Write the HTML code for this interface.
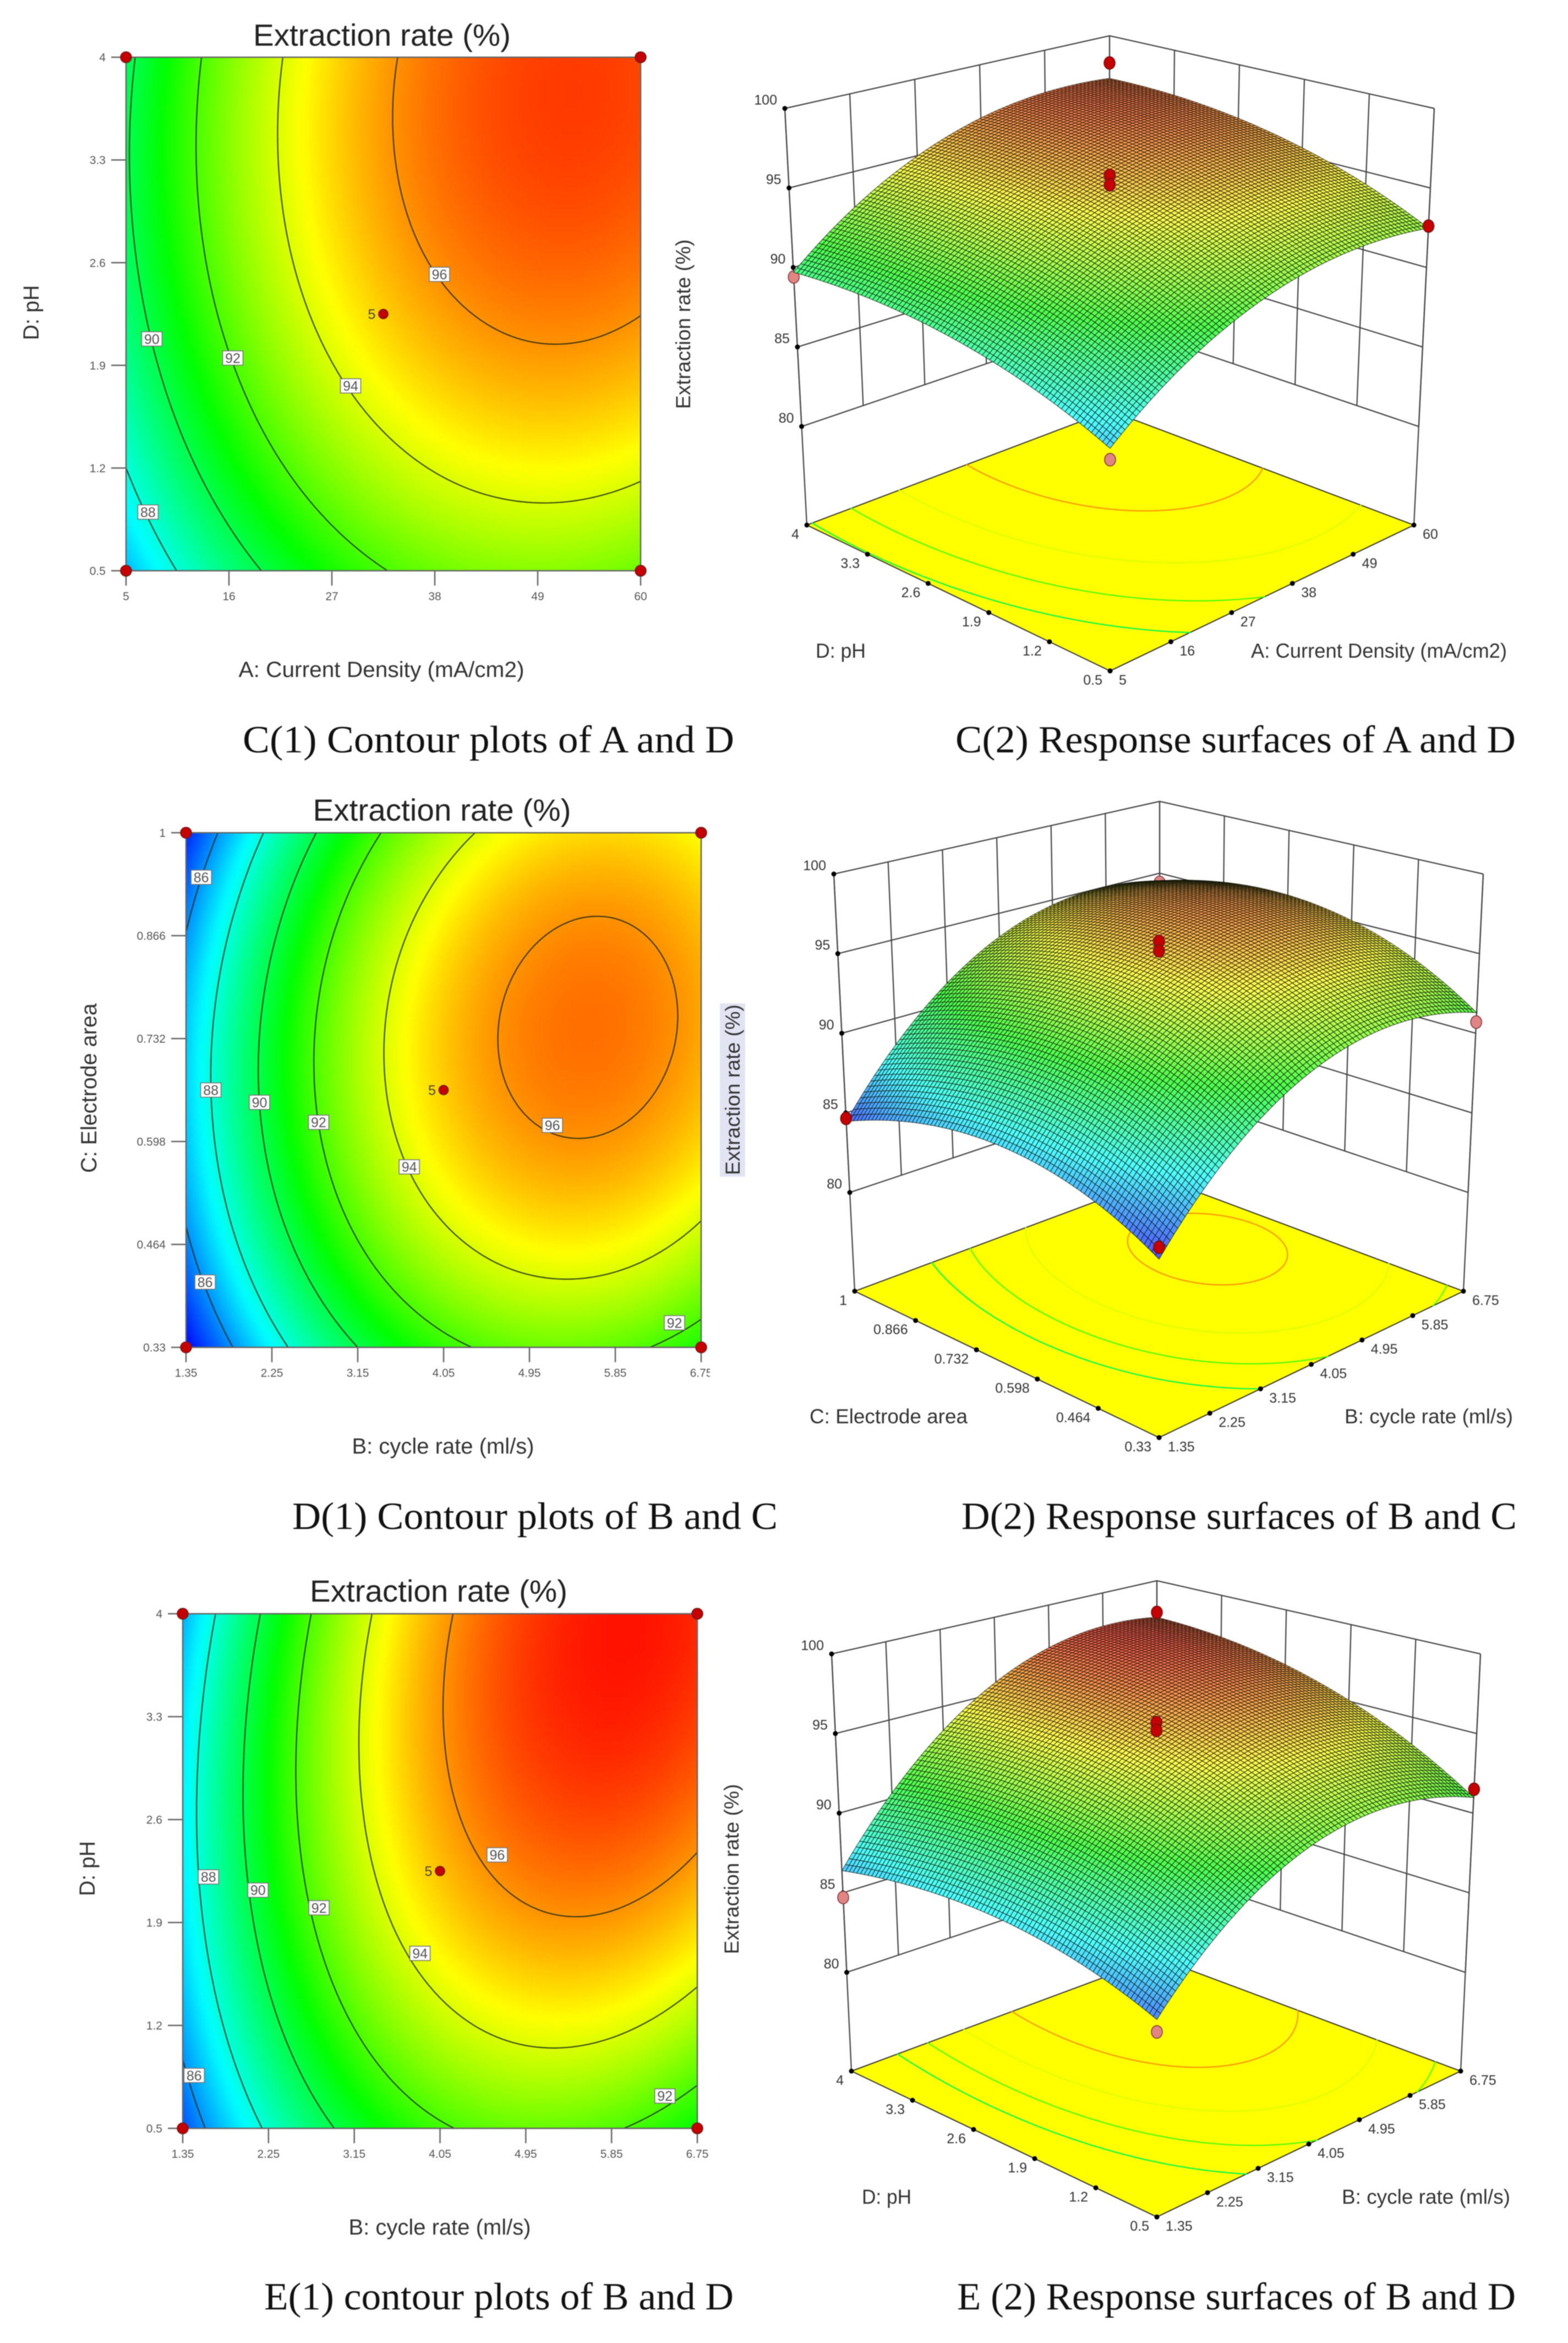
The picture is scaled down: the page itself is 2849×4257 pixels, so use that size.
<!DOCTYPE html>
<html lang="en">
<head>
<meta charset="utf-8">
<title>Contour plots and response surfaces of extraction rate</title>
<style>
html,body{margin:0;padding:0;background:#fff}
svg{display:block;filter:blur(0.8px)}
text{font-family:"Liberation Sans",sans-serif;fill:#333}
.title{fill:#222;font-size:56px}
.axis{font-size:40px}
.axis3d{font-size:37px}
.cap{font-family:"Liberation Serif",serif;fill:#111;font-size:70px}
</style>
</head>
<body>
<svg id="figure" xmlns="http://www.w3.org/2000/svg" width="2849" height="4257" viewBox="0 0 2849 4257">
<rect x="0" y="0" width="2849" height="4257" fill="#fff"/>
<defs>
<filter id="soft" x="-5%" y="-5%" width="110%" height="110%" color-interpolation-filters="sRGB"><feGaussianBlur stdDeviation="5"/></filter>
</defs>
<rect x="1308" y="1823" width="46" height="315" fill="#e2e4f4"/>
<g id="charts"></g>
<rect x="1290" y="2476" width="16" height="36" fill="#fff"/>

<g>
<text class="title" x="694" y="83" text-anchor="middle" textLength="468" lengthAdjust="spacingAndGlyphs">Extraction rate (%)</text>
<text class="axis" x="693" y="1230" text-anchor="middle" textLength="519" lengthAdjust="spacingAndGlyphs">A: Current Density (mA/cm2)</text>
<text class="axis" transform="translate(70,568) rotate(-90)" text-anchor="middle" textLength="100" lengthAdjust="spacingAndGlyphs">D: pH</text>
<text class="cap" x="441" y="1367" textLength="893" lengthAdjust="spacingAndGlyphs">C(1) Contour plots of A and D</text>
</g>
<g>
<text class="axis3d" transform="translate(1254,589) rotate(-90)" text-anchor="middle" textLength="308" lengthAdjust="spacingAndGlyphs">Extraction rate (%)</text>
<text class="axis3d" x="1482" y="1195" textLength="91" lengthAdjust="spacingAndGlyphs">D: pH</text>
<text class="axis3d" x="2273" y="1195" textLength="465" lengthAdjust="spacingAndGlyphs">A: Current Density (mA/cm2)</text>
<text class="cap" x="1736" y="1367" textLength="1018" lengthAdjust="spacingAndGlyphs">C(2) Response surfaces of A and D</text>
</g>
<g>
<text class="title" x="803" y="1491" text-anchor="middle" textLength="469" lengthAdjust="spacingAndGlyphs">Extraction rate (%)</text>
<text class="axis" x="805" y="2641" text-anchor="middle" textLength="331" lengthAdjust="spacingAndGlyphs">B: cycle rate (ml/s)</text>
<text class="axis" transform="translate(175,1977) rotate(-90)" text-anchor="middle" textLength="308" lengthAdjust="spacingAndGlyphs">C: Electrode area</text>
<text class="cap" x="531" y="2778" textLength="882" lengthAdjust="spacingAndGlyphs">D(1) Contour plots of B and C</text>
</g>
<g>
<text class="axis3d" transform="translate(1344,1980) rotate(-90)" text-anchor="middle" textLength="310" lengthAdjust="spacingAndGlyphs">Extraction rate (%)</text>
<text class="axis3d" x="1471" y="2586" textLength="287" lengthAdjust="spacingAndGlyphs">C: Electrode area</text>
<text class="axis3d" x="2443" y="2586" textLength="306" lengthAdjust="spacingAndGlyphs">B: cycle rate (ml/s)</text>
<text class="cap" x="1747" y="2778" textLength="1009" lengthAdjust="spacingAndGlyphs">D(2) Response surfaces of B and C</text>
</g>
<g>
<text class="title" x="797" y="2910" text-anchor="middle" textLength="468" lengthAdjust="spacingAndGlyphs">Extraction rate (%)</text>
<text class="axis" x="799" y="4060" text-anchor="middle" textLength="331" lengthAdjust="spacingAndGlyphs">B: cycle rate (ml/s)</text>
<text class="axis" transform="translate(172,3395) rotate(-90)" text-anchor="middle" textLength="100" lengthAdjust="spacingAndGlyphs">D: pH</text>
<text class="cap" x="480" y="4196" textLength="853" lengthAdjust="spacingAndGlyphs">E(1) contour plots of B and D</text>
</g>
<g>
<text class="axis3d" transform="translate(1342,3396) rotate(-90)" text-anchor="middle" textLength="309" lengthAdjust="spacingAndGlyphs">Extraction rate (%)</text>
<text class="axis3d" x="1566" y="4004" textLength="90" lengthAdjust="spacingAndGlyphs">D: pH</text>
<text class="axis3d" x="2438" y="4004" textLength="306" lengthAdjust="spacingAndGlyphs">B: cycle rate (ml/s)</text>
<text class="cap" x="1739" y="4196" textLength="1015" lengthAdjust="spacingAndGlyphs">E (2) Response surfaces of B and D</text>
</g>
</svg>

<script>
// ---------- chart data ----------
const contourLevels = [86, 88, 90, 92, 94, 96];
const floorContourLevels = [90, 92, 94, 96];
const zTicks = ['80', '85', '90', '95', '100'];

// Panel C: A current density vs D pH. Rows run from lowest pH to highest, columns from lowest A to highest.
const cXTicks = ['5', '16', '27', '38', '49', '60'];
const cYTicks = ['0.5', '1.2', '1.9', '2.6', '3.3', '4'];
const cResponse = [
  [86.55, 89.30, 91.26, 92.45, 92.85, 92.47],
  [88.00, 90.80, 92.82, 94.06, 94.52, 94.20],
  [89.03, 91.89, 93.97, 95.26, 95.78, 95.51],
  [89.66, 92.58, 94.71, 96.06, 96.63, 96.42],
  [89.89, 92.86, 95.04, 96.45, 97.08, 96.93],
  [89.70, 92.73, 94.97, 96.44, 97.12, 97.02]
];
const cLabelLevels = [88, 90, 92, 94, 96];
const cLabelX = [7.35, 7.76, 16.41, 29.0, 38.5];
const cLabelY = [0.90, 2.08, 1.95, 1.76, 2.52];
const cDesignX = [60, 32.5, 32.5, 60, 5, 5];
const cDesignY = [4, 2.25, 2.25, 0.5, 4, 0.5];
const cDesignZ = [98.1, 96.3, 95.7, 92.6, 89.4, 85.9];

// Panel D: B cycle rate vs C electrode area.
const dXTicks = ['1.35', '2.25', '3.15', '4.05', '4.95', '5.85', '6.75'];
const dYTicks = ['0.33', '0.464', '0.598', '0.732', '0.866', '1'];
const dResponse = [
  [84.02, 87.45, 90.00, 91.65, 92.42, 92.30, 91.29],
  [85.78, 89.30, 91.94, 93.68, 94.54, 94.51, 93.59],
  [86.70, 90.31, 93.04, 94.88, 95.83, 95.89, 95.06],
  [86.79, 90.49, 93.31, 95.24, 96.28, 96.43, 95.69],
  [86.04, 89.83, 92.75, 94.76, 95.89, 96.13, 95.48],
  [84.46, 88.34, 91.34, 93.45, 94.67, 95.00, 94.44]
];
const dLabelLevels = [86, 88, 90, 92, 94, 96, 86, 92];
const dLabelX = [1.51, 1.61, 2.12, 2.74, 3.69, 5.19, 1.55, 6.47];
const dLabelY = [0.942, 0.665, 0.649, 0.623, 0.565, 0.619, 0.415, 0.362];
const dDesignX = [6.75, 4.05, 4.05, 6.75, 1.35, 1.35];
const dDesignY = [1, 0.665, 0.665, 0.33, 1, 0.33];
const dDesignZ = [94.36, 96.3, 95.7, 90.7, 84.65, 84.7];

// Panel E: B cycle rate vs D pH.
const eXTicks = ['1.35', '2.25', '3.15', '4.05', '4.95', '5.85', '6.75'];
const eYTicks = ['0.5', '1.2', '1.9', '2.6', '3.3', '4'];
const eResponse = [
  [85.11, 88.20, 90.45, 91.85, 92.40, 92.11, 90.98],
  [86.36, 89.62, 92.04, 93.61, 94.34, 94.23, 93.27],
  [87.11, 90.54, 93.14, 94.89, 95.79, 95.85, 95.06],
  [87.36, 90.97, 93.74, 95.66, 96.74, 96.97, 96.36],
  [87.12, 90.90, 93.85, 95.94, 97.19, 97.60, 97.16],
  [86.39, 90.34, 93.46, 95.73, 97.15, 97.73, 97.46]
];
const eLabelLevels = [86, 88, 90, 92, 94, 96, 92];
const eLabelX = [1.47, 1.62, 2.14, 2.78, 3.84, 4.65, 6.41];
const eLabelY = [0.86, 2.21, 2.12, 2.0, 1.69, 2.36, 0.72];
const eDesignX = [6.75, 4.05, 4.05, 6.75, 1.35, 1.35];
const eDesignY = [4, 2.25, 2.25, 0.5, 4, 0.5];
const eDesignZ = [97.8, 96.2, 95.7, 91.5, 84.7, 84.4];

const colourStopValues = [84, 87.5, 91, 94.5, 98];
const colourStopRGB = [[0, 0, 255], [0, 255, 255], [0, 255, 0], [255, 255, 0], [255, 0, 0]];

// ---------- helpers ----------
const NS = 'http://www.w3.org/2000/svg';
const charts = document.getElementById('charts');

function make(parent, tag, name, attrs) {
  const el = document.createElementNS(NS, tag);
  
  
  for (const k in attrs) el.setAttribute(k, attrs[k]);
  parent.appendChild(el);
  return el;
}
function label(parent, name, x, yCentre, str, size, anchor, fill) {
  const t = make(parent, 'text', name, {x: x.toFixed(1), y: (yCentre + size * 0.36).toFixed(1), 'font-size': size, 'text-anchor': anchor, style: 'fill:' + fill});
  t.textContent = str;
  return t;
}
function ramp(z) {
  const v = colourStopValues, c = colourStopRGB;
  if (z <= v[0]) return c[0];
  for (let i = 1; i < v.length; i++) {
    if (z <= v[i]) {
      const s = (z - v[i - 1]) / (v[i] - v[i - 1]);
      return [0, 1, 2].map(k => c[i - 1][k] + (c[i][k] - c[i - 1][k]) * s);
    }
  }
  return c[c.length - 1];
}
const rgb = c => 'rgb(' + c.map(n => Math.round(n)).join(',') + ')';
function spline(a, t) {
  const n = a.length;
  let i = Math.floor(t);
  if (i > n - 2) i = n - 2;
  if (i < 0) i = 0;
  const s = t - i;
  const g = k => k < 0 ? 3 * a[0] - 3 * a[1] + a[2] : k >= n ? 3 * a[n - 1] - 3 * a[n - 2] + a[n - 3] : a[k];
  const p0 = g(i - 1), p1 = g(i), p2 = g(i + 1), p3 = g(i + 2);
  return 0.5 * (2 * p1 + (p2 - p0) * s + (2 * p0 - 5 * p1 + 4 * p2 - p3) * s * s + (3 * p1 - p0 - 3 * p2 + p3) * s * s * s);
}
function fieldAt(grid, fx, fy) {
  const cols = grid[0].length, rows = grid.length;
  const column = grid.map(r => spline(r, fx * (cols - 1)));
  return spline(column, fy * (rows - 1));
}
function contourPath(grid, level, project) {
  const N = 90, f = [];
  for (let j = 0; j <= N; j++) {
    const row = [];
    for (let i = 0; i <= N; i++) row.push(fieldAt(grid, i / N, j / N));
    f.push(row);
  }
  let d = '';
  const emit = (fx, fy) => { const p = project(fx, fy); return p[0].toFixed(1) + ' ' + p[1].toFixed(1); };
  for (let j = 0; j < N; j++) {
    for (let i = 0; i < N; i++) {
      const a = f[j][i], b = f[j][i + 1], c = f[j + 1][i + 1], e = f[j + 1][i];
      const pts = [];
      if ((a < level) !== (b < level)) pts.push([(i + (level - a) / (b - a)) / N, j / N]);
      if ((b < level) !== (c < level)) pts.push([(i + 1) / N, (j + (level - b) / (c - b)) / N]);
      if ((e < level) !== (c < level)) pts.push([(i + (level - e) / (c - e)) / N, (j + 1) / N]);
      if ((a < level) !== (e < level)) pts.push([i / N, (j + (level - a) / (e - a)) / N]);
      if (pts.length >= 2) d += 'M' + emit(pts[0][0], pts[0][1]) + 'L' + emit(pts[1][0], pts[1][1]);
    }
  }
  return d;
}

// ---------- 2D contour panel ----------
function drawContour(cfg) {
  const g = make(charts, 'g', 'contour-plot-' + cfg.id, {});
  const xs = cfg.xTicks.map(Number), ys = cfg.yTicks.map(Number);
  const xMin = xs[0], xMax = xs[xs.length - 1], yMin = ys[0], yMax = ys[ys.length - 1];
  const W = cfg.right - cfg.left, H = cfg.bottom - cfg.top;
  const xScale = v => cfg.left + (v - xMin) / (xMax - xMin) * W;
  const yScale = v => cfg.bottom - (v - yMin) / (yMax - yMin) * H;
  const project = (fx, fy) => [cfg.left + fx * W, cfg.bottom - fy * H];

  const clip = make(g, 'clipPath', 'plot-clip-' + cfg.id, {id: 'clip-' + cfg.id});
  make(clip, 'rect', 'plot-clip-rect', {x: cfg.left, y: cfg.top, width: W, height: H});
  const clipped = make(g, 'g', 'contour-field-' + cfg.id, {'clip-path': 'url(#clip-' + cfg.id + ')'});
  const cells = make(clipped, 'g', 'heatmap-cells-' + cfg.id, {filter: 'url(#soft)'});
  const step = 10;
  for (let py = cfg.top - 30; py < cfg.bottom + 30; py += step) {
    for (let px = cfg.left - 30; px < cfg.right + 30; px += step) {
      const z = fieldAt(cfg.grid, (px + step / 2 - cfg.left) / W, (cfg.bottom - py - step / 2) / H);
      make(cells, 'rect', 'heatmap-cell', {x: px, y: py, width: step + 1, height: step + 1, fill: rgb(ramp(z))});
    }
  }
  contourLevels.forEach(level => {
    const d = contourPath(cfg.grid, level, project);
    if (d) make(clipped, 'path', 'contour-line-' + level, {d: d, fill: 'none', stroke: '#1c2a14', 'stroke-opacity': 0.85, 'stroke-width': 2.2, 'stroke-linecap': 'round'});
  });
  make(g, 'rect', 'plot-border-' + cfg.id, {x: cfg.left, y: cfg.top, width: W, height: H, fill: 'none', stroke: '#666', 'stroke-width': 2.5});

  xs.forEach((v, i) => {
    const x = xScale(v);
    make(g, 'line', 'x-tick', {x1: x, x2: x, y1: cfg.bottom, y2: cfg.bottom + 27, stroke: '#666', 'stroke-width': 2.5});
    label(g, 'x-tick-label', x, cfg.bottom + 46, cfg.xTicks[i], 21, 'middle', '#555');
  });
  ys.forEach((v, i) => {
    const y = yScale(v);
    make(g, 'line', 'y-tick', {x1: cfg.left - 27, x2: cfg.left, y1: y, y2: y, stroke: '#666', 'stroke-width': 2.5});
    label(g, 'y-tick-label', cfg.left - 37, y, cfg.yTicks[i], 21, 'end', '#555');
  });
  cfg.labelLevels.forEach((level, i) => {
    const x = xScale(cfg.labelX[i]), y = yScale(cfg.labelY[i]);
    make(g, 'rect', 'contour-label-box', {x: x - 18.5, y: y - 13, width: 37, height: 26, fill: '#fff', stroke: '#777', 'stroke-width': 1.6});
    label(g, 'contour-label', x, y, String(level), 25, 'middle', '#555');
  });
  cfg.designX.forEach((v, i) => {
    const isCentre = i === 1 || i === 2;
    const x = xScale(v), y = yScale(cfg.designY[i]);
    make(g, 'circle', isCentre ? 'centre-design-point' : 'corner-design-point', {cx: x, cy: y, r: isCentre ? 8.5 : 10, fill: '#c40000', stroke: '#6e2020', 'stroke-width': 1.6});
  });
  const cx = xScale(cfg.designX[1]), cy = yScale(cfg.designY[1]);
  label(g, 'centre-replicate-count', cx - 21, cy, '5', 25, 'middle', '#444');
}

// ---------- 3D response surface panel ----------
function drawSurface(cfg) {
  const g = make(charts, 'g', 'response-surface-' + cfg.id, {});
  const xs = cfg.xTicks.map(Number), ys = cfg.yTicks.map(Number);
  const xMin = xs[0], xMax = xs[xs.length - 1], yMin = ys[0], yMax = ys[ys.length - 1];
  const uOf = v => (v - xMin) / (xMax - xMin);
  const vOf = v => (v - yMin) / (yMax - yMin);
  const zFloor = 73.8, zTop = 100;
  const lerp4 = (q, u, v) => {
    const a = (1 - u) * (1 - v), b = u * (1 - v), c = u * v, d = (1 - u) * v;
    return [a * q[0][0] + b * q[1][0] + c * q[2][0] + d * q[3][0], a * q[0][1] + b * q[1][1] + c * q[2][1] + d * q[3][1]];
  };
  const pt = (u, v, z) => {
    const f = lerp4(cfg.floor, u, v), t = lerp4(cfg.roof, u, v), w = (z - zFloor) / (zTop - zFloor);
    return [f[0] + (t[0] - f[0]) * w, f[1] + (t[1] - f[1]) * w];
  };
  const seq = pts => pts.map(p => p[0].toFixed(1) + ',' + p[1].toFixed(1)).join(' ');
  const wall = {fill: 'none', stroke: '#444', 'stroke-width': 2.2};

  const walls = make(g, 'g', 'back-walls-' + cfg.id, {});
  zTicks.forEach(t => {
    const z = +t;
    make(walls, 'polyline', 'wall-level-line', Object.assign({points: seq([pt(0, 1, z), pt(1, 1, z), pt(1, 0, z)])}, wall));
  });
  xs.forEach(x => {
    const u = uOf(x);
    make(walls, 'polyline', 'wall-vertical-line', Object.assign({points: seq([pt(u, 1, 80), pt(u, 1, zTop)])}, wall));
  });
  ys.forEach(y => {
    const v = vOf(y);
    make(walls, 'polyline', 'wall-vertical-line', Object.assign({points: seq([pt(1, v, 80), pt(1, v, zTop)])}, wall));
  });
  make(walls, 'polyline', 'wall-left-edge', Object.assign({points: seq([pt(0, 1, zFloor), pt(0, 1, zTop)])}, wall));
  make(walls, 'polyline', 'wall-right-edge', Object.assign({points: seq([pt(1, 0, zFloor), pt(1, 0, zTop)])}, wall));

  make(g, 'polygon', 'floor-' + cfg.id, {points: seq([pt(0, 0, zFloor), pt(1, 0, zFloor), pt(1, 1, zFloor), pt(0, 1, zFloor)]), fill: '#ffff00', stroke: '#333', 'stroke-width': 2});
  floorContourLevels.forEach(level => {
    const d = contourPath(cfg.grid, level, (fx, fy) => pt(fx, fy, zFloor));
    if (d) make(g, 'path', 'floor-contour-' + level, {d: d, fill: 'none', stroke: rgb(ramp(level)), 'stroke-width': 2.2, 'stroke-linecap': 'round'});
  });

  zTicks.forEach(t => {
    const p = pt(0, 1, +t);
    make(g, 'circle', 'z-tick-dot', {cx: p[0], cy: p[1], r: 4.5, fill: '#000'});
    label(g, 'z-tick-label', p[0] - 14, p[1] - 16, t, 25, 'end', '#333');
  });
  xs.forEach((x, i) => {
    const p = pt(uOf(x), 0, zFloor);
    make(g, 'circle', 'x-tick-dot', {cx: p[0], cy: p[1], r: 4.5, fill: '#000'});
    label(g, 'x-tick-label', p[0] + 16, p[1] + 16, cfg.xTicks[i], 25, 'start', '#333');
  });
  ys.forEach((y, i) => {
    const p = pt(0, vOf(y), zFloor);
    make(g, 'circle', 'y-tick-dot', {cx: p[0], cy: p[1], r: 4.5, fill: '#000'});
    label(g, 'y-tick-label', p[0] - 14, p[1] + 16, cfg.yTicks[i], 25, 'end', '#333');
  });

  const surfaceZ = (u, v) => fieldAt(cfg.grid, u, v);
  const drawMarker = (i, above) => {
    const p = pt(uOf(cfg.designX[i]), vOf(cfg.designY[i]), cfg.designZ[i]);
    make(g, 'ellipse', above ? 'design-point-above-surface' : 'design-point-below-surface', {cx: p[0], cy: p[1], rx: 10, ry: 11.5, fill: above ? '#c40000' : '#e08484', stroke: above ? '#6e1414' : '#84393a', 'stroke-width': 1.6});
  };
  const isAbove = i => cfg.designZ[i] > surfaceZ(uOf(cfg.designX[i]), vOf(cfg.designY[i]));
  cfg.designZ.forEach((z, i) => { if (!isAbove(i)) drawMarker(i, false); });

  const mesh = make(g, 'g', 'surface-mesh-' + cfg.id, {stroke: '#0a1006', 'stroke-opacity': 0.7, 'stroke-width': 1.2});
  const M = 84;
  for (let i = M - 1; i >= 0; i--) {
    for (let j = M - 1; j >= 0; j--) {
      const u0 = i / M, u1 = (i + 1) / M, v0 = j / M, v1 = (j + 1) / M;
      const z00 = surfaceZ(u0, v0), z10 = surfaceZ(u1, v0), z11 = surfaceZ(u1, v1), z01 = surfaceZ(u0, v1);
      const c = ramp((z00 + z10 + z11 + z01) / 4).map(n => n + (255 - n) * 0.3);
      make(mesh, 'polygon', 'surface-cell', {points: seq([pt(u0, v0, z00), pt(u1, v0, z10), pt(u1, v1, z11), pt(u0, v1, z01)]), fill: rgb(c)});
    }
  }
  cfg.designZ.forEach((z, i) => { if (isAbove(i)) drawMarker(i, true); });
}

// ---------- panels ----------
drawContour({id: 'c1', left: 229, right: 1164, top: 104, bottom: 1037, xTicks: cXTicks, yTicks: cYTicks, grid: cResponse, labelLevels: cLabelLevels, labelX: cLabelX, labelY: cLabelY, designX: cDesignX, designY: cDesignY});
drawContour({id: 'd1', left: 338, right: 1274, top: 1513, bottom: 2448, xTicks: dXTicks, yTicks: dYTicks, grid: dResponse, labelLevels: dLabelLevels, labelX: dLabelX, labelY: dLabelY, designX: dDesignX, designY: dDesignY});
drawContour({id: 'e1', left: 332, right: 1267, top: 2932, bottom: 3867, xTicks: eXTicks, yTicks: eYTicks, grid: eResponse, labelLevels: eLabelLevels, labelX: eLabelX, labelY: eLabelY, designX: eDesignX, designY: eDesignY});

drawSurface({id: 'c2', floor: [[2017, 1219], [2569, 954], [2016, 746], [1466, 954]], roof: [[2017, 388], [2606, 197], [2016, 65], [1426, 197]], xTicks: cXTicks, yTicks: cYTicks, grid: cResponse, designX: cDesignX, designY: cDesignY, designZ: cDesignZ});
drawSurface({id: 'd2', floor: [[2106, 2612], [2659, 2346], [2107, 2140], [1553, 2346]], roof: [[2106, 1781], [2695, 1588], [2107, 1456], [1515, 1588]], xTicks: dXTicks, yTicks: dYTicks, grid: dResponse, designX: dDesignX, designY: dDesignY, designZ: dDesignZ});
drawSurface({id: 'e2', floor: [[2102, 4028], [2654, 3763], [2102, 3557], [1547, 3763]], roof: [[2102, 3197], [2690, 3005], [2102, 2872], [1511, 3005]], xTicks: eXTicks, yTicks: eYTicks, grid: eResponse, designX: eDesignX, designY: eDesignY, designZ: eDesignZ});
</script>
</body>
</html>
